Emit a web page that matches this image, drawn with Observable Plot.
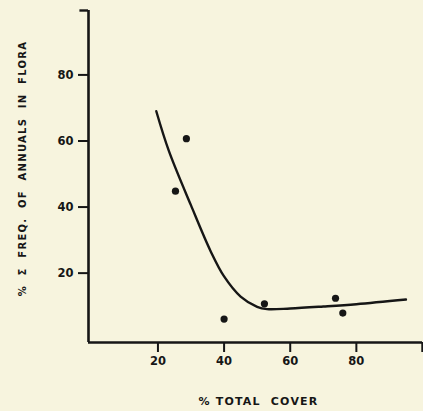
<!DOCTYPE html>
<html>
<head>
<meta charset="utf-8">
<script src="https://cdn.jsdelivr.net/npm/d3@7"></script>
<script src="https://cdn.jsdelivr.net/npm/@observablehq/plot@0.6"></script>
<style>
  html, body { margin: 0; padding: 0; background: #f7f4de; }
  #chart svg { display: block; }
</style>
</head>
<body>
<div id="chart"></div>
<script>
// Observed points
const coverX = [25.3, 28.6, 40.0, 52.2, 73.7, 75.9];
const annualsY = [44.8, 60.7, 6.1, 10.7, 12.4, 7.9];

// Hand-fitted curve
const curveX = [19.5, 23.3, 30, 36, 40, 45, 50, 53, 60, 70, 80, 95];
const curveY = [69.0, 57.0, 40.5, 26.5, 19.0, 12.9, 9.8, 9.1, 9.3, 9.9, 10.6, 12.0];

const xTicks = [20, 40, 60, 80];
const yTicks = [20, 40, 60, 80];
const xLabel = "% TOTAL  COVER";
const yLabel = "%  Σ  FREQ.  OF  ANNUALS  IN  FLORA";

const points = coverX.map((x, i) => ({x, y: annualsY[i]}));
const curve = curveX.map((x, i) => ({x, y: curveY[i]}));

const ink = "#161616";
const font = "'DejaVu Sans', sans-serif";

const chart = Plot.plot({
  width: 423,
  height: 411,
  marginLeft: 88,
  marginRight: 1,
  marginTop: 10,
  marginBottom: 69,
  style: {background: "#f7f4de", color: ink, fontFamily: font},
  x: {domain: [-1, 100]},
  y: {domain: [-1, 99.5]},
  marks: [
    Plot.axisX(xTicks, {tickSize: 10, tickPadding: 4, fontSize: 11.5, fontWeight: "bold", strokeWidth: 2, label: null}),
    Plot.axisY(yTicks, {tickSize: 10, tickPadding: 5, fontSize: 11.5, fontWeight: "bold", strokeWidth: 2, label: null}),
    Plot.ruleX([-1], {y1: -1, y2: 99.5, stroke: ink, strokeWidth: 2.6}),
    Plot.ruleY([-1], {x1: -1, x2: 100, stroke: ink, strokeWidth: 2.6}),
    Plot.ruleY([99.5], {x1: -3.6, x2: -1, stroke: ink, strokeWidth: 2.4}),
    Plot.ruleX([100], {y1: -1, y2: -4, stroke: ink, strokeWidth: 2.4}),
    Plot.line(curve, {x: "x", y: "y", curve: "catmull-rom", stroke: ink, strokeWidth: 2.4}),
    Plot.dot(points, {x: "x", y: "y", r: 3.6, fill: ink, stroke: null}),
    Plot.text([xLabel], {frameAnchor: "bottom", dy: 62, dx: 3, fontSize: 11, fontWeight: "bold", fill: ink}),
    Plot.text([yLabel], {frameAnchor: "left", textAnchor: "middle", dx: -66, dy: -8, rotate: -90, fontSize: 10, fontWeight: "bold", fill: ink})
  ]
});
chart.querySelectorAll("text").forEach(t => {
  if (t.textContent === yLabel) t.style.letterSpacing = "1.3px";
  if (t.textContent === xLabel) t.style.letterSpacing = "1.2px";
});
document.getElementById("chart").append(chart);
</script>
</body>
</html>
